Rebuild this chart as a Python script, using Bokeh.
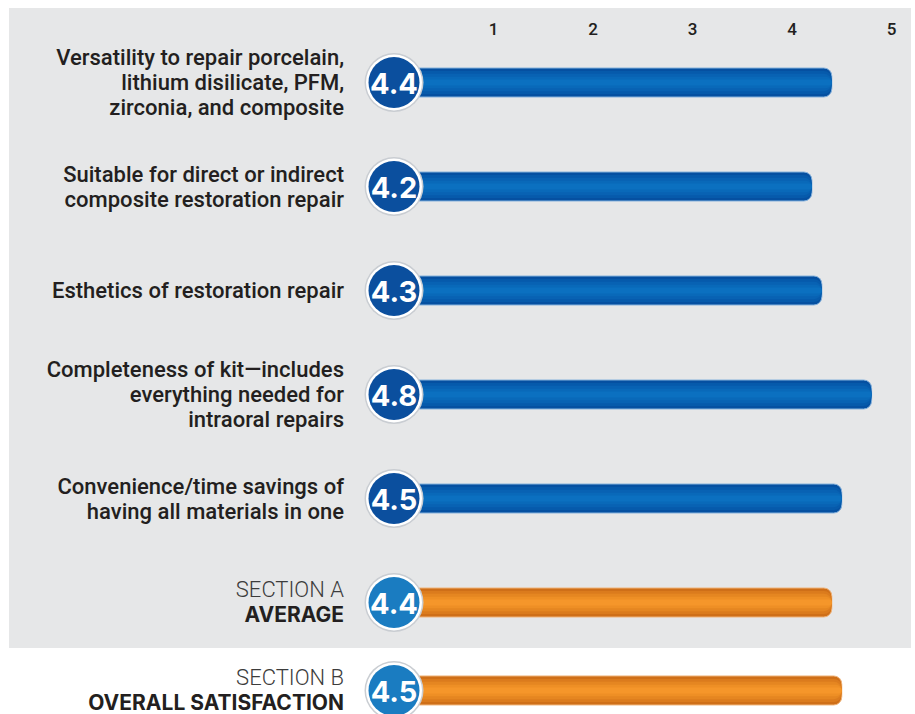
from bokeh.plotting import figure
from bokeh.models import Range1d, FixedTicker, ColumnDataSource
from bokeh.core.properties import value
from bokeh.embed import file_html
from bokeh.resources import INLINE

# ---- data ----
labels = [
    "Versatility to repair porcelain,\nlithium disilicate, PFM,\nzirconia, and composite",
    "Suitable for direct or indirect\ncomposite restoration repair",
    "Esthetics of restoration repair",
    "Completeness of kit\u2014includes\neverything needed for\nintraoral repairs",
    "Convenience/time savings of\nhaving all materials in one",
]
scores = [4.4, 4.2, 4.3, 4.8, 4.5]
summary_titles = ["SECTION A", "SECTION B"]
summary_names = ["AVERAGE", "OVERALL SATISFACTION"]
summary_scores = [4.4, 4.5]
tick_values = [1, 2, 3, 4, 5]

# ---- layout (row positions, not data) ----
rows = [0, 1, 2, 3, 4]
summary_rows = [5, 5.846]

FONT = "Inter"
LABEL_FONT = "Roboto Medium"
LIGHT_FONT = "Roboto Light"
GRAY = "#e6e7e8"
INK = "#231f20"

W, H = 902, 706
X0 = 384.5      # screen x of score 0 inside the figure
UNIT = 99.5     # px per score unit
TOP = 36        # border above the frame (holds the axis)
ROW = 104       # px per row
R0 = 38         # frame y of row 0
PANEL_PX = 640  # height of the gray panel

p = figure(width=W, height=H,
           x_range=Range1d(-X0 / UNIT, (W - X0) / UNIT),
           y_range=Range1d((H - TOP - R0) / ROW, -R0 / ROW),
           x_axis_location="above", y_axis_location=None,
           toolbar_location=None, output_backend="svg",
           min_border_left=0, min_border_right=0,
           min_border_bottom=0, min_border_top=TOP,
           margin=(8, 0, 0, 9))
p.styles = {"background": f"linear-gradient(to bottom, {GRAY} {PANEL_PX}px, #ffffff {PANEL_PX}px)"}
p.background_fill_color = None
p.border_fill_color = None
p.outline_line_color = None
p.grid.visible = False

ax = p.xaxis[0]
ax.ticker = FixedTicker(ticks=tick_values)
ax.axis_line_color = None
ax.major_tick_line_color = None
ax.minor_tick_line_color = None
ax.major_tick_out = 0
ax.major_label_standoff = 10
ax.major_label_text_font = LABEL_FONT
ax.major_label_text_font_size = "17px"
ax.major_label_text_color = INK

bar_px = 29

def bars(ys, vals, colors, outline):
    src = ColumnDataSource(dict(y=ys, right=vals))
    fracs = [1.0, 0.8, 0.6, 0.4, 0.2]
    radii = [8, 8, 8, 6, 3]
    for i, (f, c, r) in enumerate(zip(fracs, colors, radii)):
        p.hbar(y="y", left=0, right="right", height=bar_px * f / ROW, source=src,
               fill_color=c, line_color=outline if i == 0 else None,
               line_width=1, border_radius=r)

bars(rows, scores, ["#0550a1", "#065aab", "#0862b3", "#0969b9", "#0b70c0"], "#86b2dc")
bars(summary_rows, summary_scores, ["#cf6f18", "#db7b1d", "#e58621", "#ee8f25", "#f5962a"], "#f0b47a")

def badges(ys, vals, color):
    src = ColumnDataSource(dict(x=[0] * len(ys), y=ys,
                                t=["%.1f" % v for v in vals]))
    p.scatter(x="x", y="y", size=59, source=src, marker="circle",
              fill_color="#c9cdd2", line_color=None)
    p.scatter(x="x", y="y", size=56, source=src, marker="circle",
              fill_color="white", line_color=None)
    p.scatter(x="x", y="y", size=51, source=src, marker="circle",
              fill_color=color, line_color=None)
    p.text(x="x", y="y", text="t", source=src, text_align="center",
           text_baseline="middle", text_color="white",
           text_font=value(FONT), text_font_style="bold",
           text_font_size="29px", y_offset=1)

badges(rows, scores, "#0b4f9e")
badges(summary_rows, summary_scores, "#1a7cc1")

# category labels
lsrc = ColumnDataSource(dict(x=[0] * len(rows), y=rows, t=labels))
p.text(x="x", y="y", text="t", source=lsrc, x_offset=-50,
       text_align="right", text_baseline="middle", text_color=INK,
       text_font=value(LABEL_FONT), text_font_size="22px", text_line_height=1.0)

ssrc = ColumnDataSource(dict(x=[0, 0], y=summary_rows, a=summary_titles, b=summary_names))
p.text(x="x", y="y", text="a", source=ssrc, x_offset=-50, y_offset=-13,
       text_align="right", text_baseline="middle", text_color="#3c3c3c",
       text_font=value(LIGHT_FONT), text_font_size="22px")
p.text(x="x", y="y", text="b", source=ssrc, x_offset=-50, y_offset=12,
       text_align="right", text_baseline="middle", text_color=INK,
       text_font=value(FONT), text_font_style="bold", text_font_size="21px")

open("out.html", "w").write(file_html(p, INLINE))
